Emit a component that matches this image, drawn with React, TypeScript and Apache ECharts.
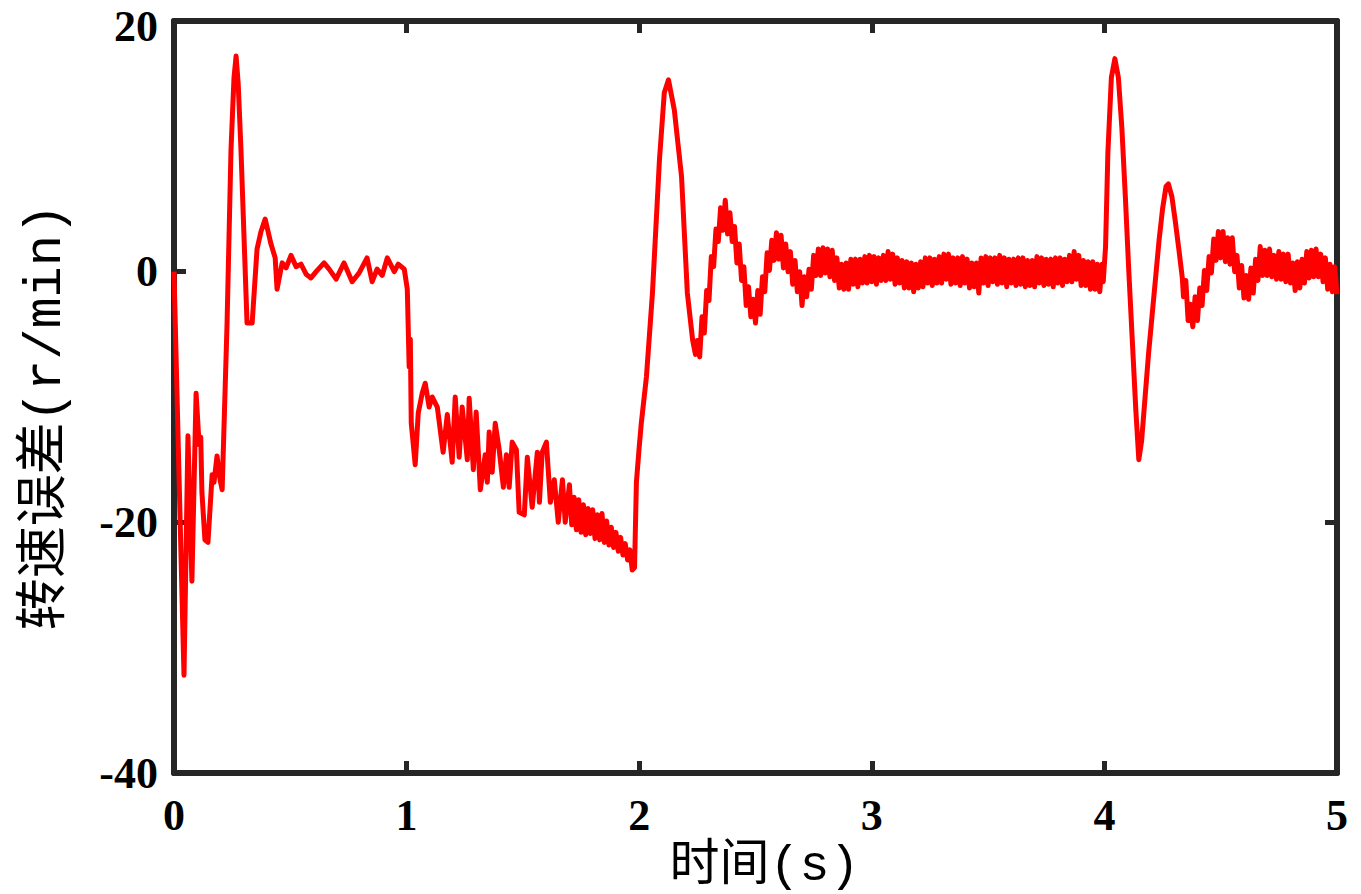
import React, { useEffect, useRef } from "react";
import * as echarts from "echarts";

// Speed error (r/min) vs time (s), [t, value]
const startupSamples: [number, number][] = [
  [0, 0], [0.022, -16.6], [0.043, -32.2], [0.06, -13.1], [0.077, -24.7], [0.095, -9.7], [0.108, -13.8],
  [0.115, -13.2], [0.12, -17.6], [0.133, -21.4], [0.146, -21.6], [0.164, -16.2], [0.172, -16.8], [0.185, -14.7],
  [0.198, -16.6], [0.207, -17.4], [0.228, -4.2], [0.245, 9.7], [0.258, 15.5], [0.267, 17.2], [0.276, 15.0],
  [0.288, 9.7], [0.314, -4.1], [0.336, -4.1], [0.357, 1.8], [0.374, 3.2], [0.392, 4.2], [0.417, 2.2],
  [0.435, 1.1], [0.443, -1.4], [0.465, 0.7], [0.482, 0.3], [0.503, 1.3], [0.525, 0.4], [0.546, 0.6],
  [0.568, -0.2], [0.589, -0.5], [0.611, 0], [0.645, 0.7], [0.667, 0.2], [0.697, -0.6], [0.731, 0.7],
  [0.766, -0.8], [0.796, -0.1], [0.83, 1.1], [0.852, -0.8], [0.873, 0.2], [0.895, -0.3], [0.917, 1.1],
  [0.947, 0], [0.964, 0.6], [0.99, 0.2],
];

const loadStepSamples: [number, number][] = [
  [1.003, -1.4], [1.011, -7.6], [1.016, -5.4], [1.02, -12.1], [1.037, -15.4], [1.05, -11.3], [1.067, -9.7],
  [1.08, -8.9], [1.097, -10.8], [1.11, -10.0], [1.132, -10.8], [1.157, -14.4], [1.175, -11.4], [1.196, -15.2],
  [1.209, -10.0], [1.226, -14.8], [1.239, -10.8], [1.261, -15.0], [1.269, -10.1], [1.287, -15.8], [1.299, -11.2],
  [1.317, -17.4], [1.338, -14.6], [1.347, -16.8], [1.355, -12.8], [1.368, -16.0], [1.381, -12.1], [1.398, -14.2],
  [1.416, -17.2], [1.429, -14.6], [1.441, -17.2], [1.454, -13.6], [1.472, -14.2], [1.484, -19.2], [1.506, -19.4],
  [1.519, -14.8], [1.54, -18.8], [1.562, -14.4], [1.571, -18.4], [1.583, -14.4], [1.601, -13.6], [1.618, -18.4],
  [1.635, -16.6], [1.652, -20.0], [1.67, -16.6], [1.682, -20.0], [1.7, -17.0], [1.71, -20.2], [1.72, -18.0],
  [1.73, -20.6], [1.74, -18.2], [1.75, -20.8], [1.76, -18.6], [1.77, -21.0], [1.78, -18.9], [1.79, -20.9],
  [1.8, -19.0], [1.81, -21.3], [1.82, -19.4], [1.83, -21.4], [1.84, -19.3], [1.85, -21.6], [1.86, -19.9],
  [1.87, -21.8], [1.88, -20.4], [1.89, -22.0], [1.9, -20.8], [1.91, -22.3], [1.92, -21.2], [1.93, -22.6],
  [1.94, -21.7], [1.95, -23.0], [1.96, -22.2], [1.97, -23.8], [1.98, -23.6],
];

const recoverySamples: [number, number][] = [
  [1.988, -16.8], [2.0, -14.0], [2.009, -12.1], [2.031, -8.4], [2.057, -1.7], [2.087, 8.9], [2.108, 14.3],
  [2.126, 15.3], [2.151, 12.9], [2.182, 7.6], [2.207, -1.7], [2.23, -5.5], [2.242, -6.6],
];

const steadySamples: [number, number][] = [
  [2.25, -5.5], [2.26, -6.8], [2.27, -3.6], [2.28, -4.9], [2.29, -1.5], [2.3, -2.3], [2.31, 1.2], [2.32, 0.4],
  [2.33, 3.4], [2.34, 2.4], [2.35, 5.1], [2.36, 3.3], [2.37, 5.7], [2.38, 3.0], [2.39, 4.7], [2.4, 2.4],
  [2.41, 3.6], [2.42, 0.7], [2.43, 2.2], [2.44, -0.7], [2.45, 0.4], [2.46, -2.7], [2.47, -1.2], [2.48, -3.6],
  [2.49, -2.2], [2.5, -4.1], [2.51, -1.5], [2.52, -3.4], [2.53, -0.4], [2.54, -1.6], [2.55, 1.5], [2.56, 0.1],
  [2.57, 2.5], [2.58, 0.9], [2.59, 3.1], [2.6, 1.0], [2.61, 2.9], [2.62, 0.3], [2.63, 2.2], [2.64, 0.0],
  [2.65, 1.6], [2.66, -1.0], [2.67, 0.9], [2.68, -1.6], [2.69, 0.0], [2.7, -2.7], [2.71, -0.4], [2.72, -2.0],
  [2.73, 0.2], [2.74, -1.4], [2.75, 1.3], [2.76, -0.3], [2.77, 1.8], [2.78, -0.3], [2.79, 1.9], [2.8, -0.1],
  [2.81, 1.8], [2.82, -0.4], [2.83, 1.7], [2.84, -0.7], [2.85, 1.1], [2.86, -1.3], [2.87, 0.6], [2.88, -1.4],
  [2.89, 0.7], [2.9, -1.4], [2.91, 1.0], [2.92, -1.0], [2.93, 1.0], [2.94, -1.2], [2.95, 1.0], [2.96, -0.9],
  [2.97, 1.2], [2.98, -0.9], [2.99, 1.3], [3.0, -0.8], [3.01, 1.2], [3.02, -1.0], [3.03, 1.1], [3.04, -0.7],
  [3.05, 1.3], [3.06, -0.7], [3.07, 1.6], [3.08, -0.6], [3.09, 1.4], [3.1, -1.0], [3.11, 1.1], [3.12, -0.9],
  [3.13, 0.9], [3.14, -1.3], [3.15, 0.8], [3.16, -1.3], [3.17, 0.7], [3.18, -1.6], [3.19, 0.6], [3.2, -1.3],
  [3.21, 0.8], [3.22, -1.2], [3.23, 1.1], [3.24, -0.9], [3.25, 1.1], [3.26, -1.1], [3.27, 1.0], [3.28, -0.9],
  [3.29, 1.2], [3.3, -0.9], [3.31, 1.4], [3.32, -0.6], [3.33, 1.4], [3.34, -1.0], [3.35, 1.1], [3.36, -0.9],
  [3.37, 1.1], [3.38, -1.1], [3.39, 1.2], [3.4, -0.9], [3.41, 1.0], [3.42, -1.3], [3.43, 0.7], [3.44, -1.2],
  [3.45, 0.7], [3.46, -1.7], [3.47, 1.1], [3.48, -0.9], [3.49, 1.2], [3.5, -1.1], [3.51, 1.1], [3.52, -0.8],
  [3.53, 1.1], [3.54, -1.0], [3.55, 1.3], [3.56, -0.9], [3.57, 1.1], [3.58, -1.2], [3.59, 1.0], [3.6, -0.9],
  [3.61, 1.0], [3.62, -1.1], [3.63, 1.1], [3.64, -1.0], [3.65, 1.1], [3.66, -1.2], [3.67, 0.9], [3.68, -1.1],
  [3.69, 0.9], [3.7, -1.2], [3.71, 1.2], [3.72, -0.9], [3.73, 1.1], [3.74, -1.1], [3.75, 1.0], [3.76, -1.0],
  [3.77, 1.0], [3.78, -1.2], [3.79, 1.1], [3.8, -0.9], [3.81, 1.1], [3.82, -1.1], [3.83, 1.0], [3.84, -0.8],
  [3.85, 1.3], [3.86, -0.8], [3.87, 1.6], [3.88, -0.6], [3.89, 1.3], [3.9, -1.1], [3.91, 0.9], [3.92, -1.1],
  [3.93, 0.8], [3.94, -1.4], [3.95, 0.8], [3.96, -1.4], [3.97, 0.6], [3.98, -1.6], [3.99, 0.6],
];

const disturbanceSamples: [number, number][] = [
  [3.995, -0.8], [4.005, 2.0], [4.015, 9.5], [4.03, 15.5], [4.045, 17.0], [4.06, 15.5], [4.075, 11.5],
  [4.09, 6.0], [4.105, 0.0], [4.12, -5.5], [4.135, -11.0], [4.148, -15.0], [4.16, -13.5], [4.175, -10.0],
  [4.19, -6.5], [4.205, -3.5], [4.22, -0.5], [4.235, 2.5], [4.25, 5.0], [4.265, 6.8], [4.275, 7.0],
  [4.29, 6.0], [4.305, 4.0], [4.32, 1.8], [4.335, -0.5],
];

const tailSamples: [number, number][] = [
  [4.34, -2.0], [4.35, -0.7], [4.36, -3.9], [4.37, -2.6], [4.38, -4.4], [4.39, -2.0], [4.4, -3.9], [4.41, -1.3],
  [4.42, -2.7], [4.43, 0.1], [4.44, -1.5], [4.45, 1.2], [4.46, -0.1], [4.47, 2.6], [4.48, 0.9], [4.49, 3.2],
  [4.5, 1.1], [4.51, 3.2], [4.52, 0.8], [4.53, 2.7], [4.54, 0.6], [4.55, 2.7], [4.56, 0.0], [4.57, 1.3],
  [4.58, -1.3], [4.59, 0.5], [4.6, -2.1], [4.61, -0.3], [4.62, -2.2], [4.63, 0.3], [4.64, -1.7], [4.65, 1.0],
  [4.66, -0.7], [4.67, 2.0], [4.68, -0.3], [4.69, 1.7], [4.7, -0.3], [4.71, 1.8], [4.72, -0.4], [4.73, 1.3],
  [4.74, -0.6], [4.75, 1.6], [4.76, -0.6], [4.77, 1.4], [4.78, -0.8], [4.79, 1.4], [4.8, -0.9], [4.81, 0.7],
  [4.82, -1.5], [4.83, 0.8], [4.84, -1.3], [4.85, 1.0], [4.86, -0.9], [4.87, 1.6], [4.88, -0.5], [4.89, 1.7],
  [4.9, -0.4], [4.91, 1.8], [4.92, -0.4], [4.93, 1.4], [4.94, -0.8], [4.95, 1.1], [4.96, -1.4], [4.97, 0.6],
  [4.98, -1.6], [4.99, 0.4], [5.0, -1.8],
];

const xTickRange = { min: 0, max: 5, interval: 1 };
const yTickRange = { min: -40, max: 20, interval: 20 };
const xAxisName = "时间(s)";
const yAxisName = "转速误差(r/min)";

export default function App() {
  const ref = useRef<HTMLDivElement>(null);

  useEffect(() => {
    document.body.style.margin = "0";
    if (!ref.current) return;
    const chart = echarts.init(ref.current, undefined, { renderer: "svg" });
    const data = [
      ...startupSamples,
      ...loadStepSamples,
      ...recoverySamples,
      ...steadySamples,
      ...disturbanceSamples,
      ...tailSamples,
    ];
    const frameColor = "#262626";
    const axisLine = { show: true, onZero: false, lineStyle: { color: frameColor, width: 6 } };
    const axisTick = { show: true, inside: true, length: 12, lineStyle: { color: frameColor, width: 5 } };
    const labelFont = {
      fontFamily: "'Liberation Serif', 'Times New Roman', serif",
      fontWeight: "bold" as const,
      fontSize: 44,
      lineHeight: 36,
      color: "#000",
    };
    const nameFont = "'Liberation Mono', 'Noto Sans CJK SC', monospace";
    chart.setOption({
      animation: false,
      backgroundColor: "#ffffff",
      grid: { left: 174, right: 24, top: 21, bottom: 121, containLabel: false, outerBoundsMode: "none" },
      xAxis: [
        {
          type: "value",
          ...xTickRange,
          position: "bottom",
          name: xAxisName,
          nameLocation: "middle",
          nameGap: 53,
          nameTextStyle: { fontFamily: nameFont, fontSize: 50, color: "#000", padding: [0, 0, 0, 18] },
          axisLine,
          axisTick,
          axisLabel: { ...labelFont, margin: 24 },
          splitLine: { show: false },
        },
        {
          type: "value",
          ...xTickRange,
          position: "top",
          axisLine,
          axisTick,
          axisLabel: { show: false },
          splitLine: { show: false },
        },
      ],
      yAxis: [
        {
          type: "value",
          ...yTickRange,
          position: "left",
          name: yAxisName,
          nameLocation: "middle",
          nameGap: 102,
          nameTextStyle: { fontFamily: nameFont, fontSize: 52, color: "#000", padding: [0, 40, 0, 0] },
          axisLine,
          axisTick,
          axisLabel: {
            ...labelFont,
            margin: 16,
            formatter: (v: number) => (v === yTickRange.max ? `{top|${v}}` : `${v}`),
            rich: { top: { ...labelFont, padding: [10, 0, 0, 0] } },
          },
          splitLine: { show: false },
        },
        {
          type: "value",
          ...yTickRange,
          position: "right",
          axisLine,
          axisTick,
          axisLabel: { show: false },
          splitLine: { show: false },
        },
      ],
      series: [
        {
          type: "line",
          xAxisIndex: 0,
          yAxisIndex: 0,
          data,
          showSymbol: false,
          symbol: "none",
          lineStyle: { color: "#ff0000", width: 5, join: "round" },
          z: 1,
        },
      ],
    });
    return () => chart.dispose();
  }, []);

  return <div ref={ref} style={{ width: 1361, height: 894 }} />;
}
